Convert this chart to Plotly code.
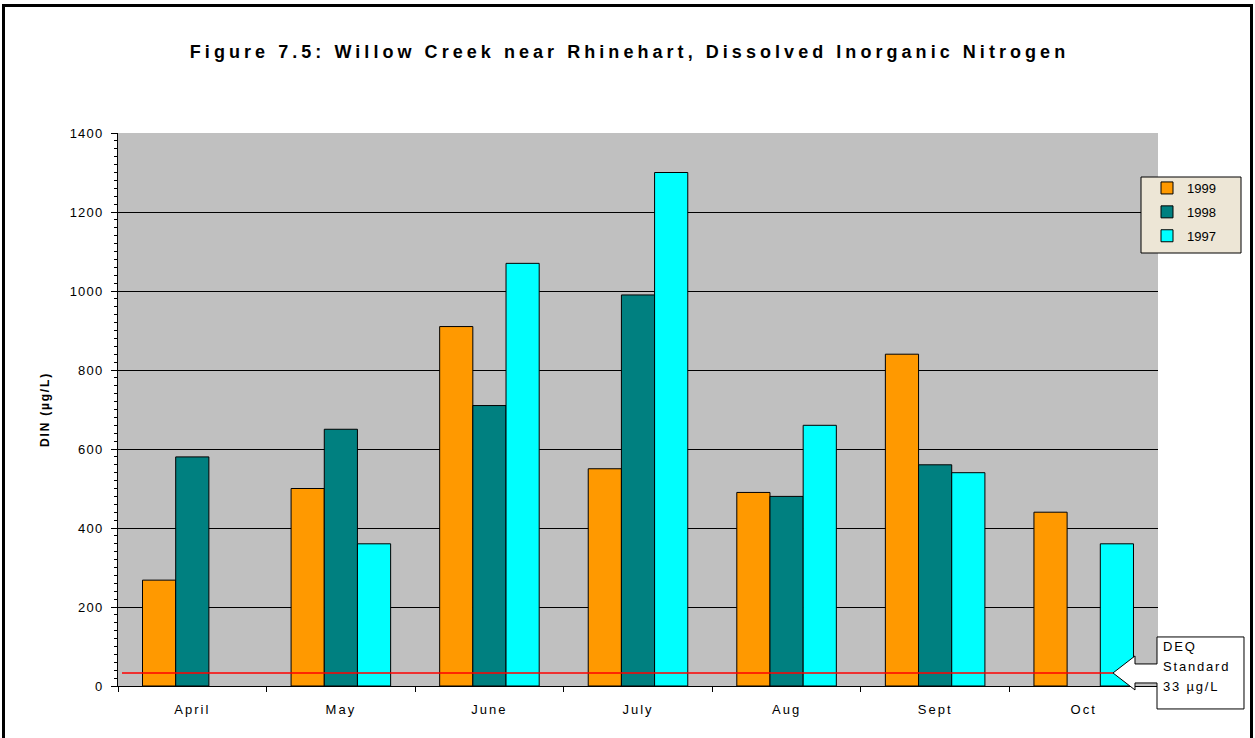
import plotly.graph_objects as go

# Monthly dissolved inorganic nitrogen (ug/L) at Willow Creek near Rhinehart
months = ["April", "May", "June", "July", "Aug", "Sept", "Oct"]
din_1999 = [268, 500, 910, 550, 490, 840, 440]
din_1998 = [580, 650, 710, 990, 480, 560, None]
din_1997 = [None, 360, 1070, 1300, 660, 540, 360]
deq_standard = 33
callout_lines = ["DEQ", "Standard", "33 \u00b5g/L"]

series = [
    ("1999", din_1999, "#FF9900"),
    ("1998", din_1998, "#008080"),
    ("1997", din_1997, "#00FFFF"),
]

W, H = 1255, 738
L, R, T, B = 118, 97, 133, 52
PW, PH = W - L - R, H - T - B
Y_MAX = 1400
FONT = "Arial, 'Liberation Sans', sans-serif"


def fx(px):
    return (px - L) / PW


def fy(py):
    return (H - B - py) / PH


fig = go.Figure()
for name, vals, color in series:
    fig.add_trace(go.Bar(
        x=months, y=vals, name=name, legendgroup=name,
        marker=dict(color=color, line=dict(color="black", width=1)),
    ))

# callout arrow pointing at the DEQ standard line
tip_py = (H - B) - deq_standard * PH / Y_MAX
tip_px = 1113
box_l, box_r = 1157, 1244
box_t, box_b = tip_py - 36, tip_py + 36
neck_x = 1135
pts = [
    (box_l, box_t), (box_r, box_t), (box_r, box_b), (box_l, box_b),
    (box_l, tip_py + 10), (neck_x, tip_py + 10), (neck_x, tip_py + 17),
    (tip_px, tip_py), (neck_x, tip_py - 17), (neck_x, tip_py - 9),
    (box_l, tip_py - 9),
]
path = "M " + " L ".join(f"{fx(x):.5f},{fy(y):.5f}" for x, y in pts) + " Z"

annotations = [
    dict(text=line, xref="paper", yref="paper",
         x=fx(box_l + 4), y=fy(box_t + 10 + 20 * i), xanchor="left", yanchor="middle",
         align="left", showarrow=False, font=dict(size=13))
    for i, line in enumerate(callout_lines)
]

# legend panel
leg_l, leg_t, leg_r, leg_b = 1141, 177, 1241, 253

fig.update_layout(
    width=W, height=H, autosize=False,
    margin=dict(l=L, r=R, t=T, b=B, pad=0),
    paper_bgcolor="white", plot_bgcolor="#C0C0C0",
    font=dict(family=FONT, size=13, color="black"),
    barmode="group", bargap=0.33, bargroupgap=0,
    title=dict(
        text="<b>Figure 7.5: Willow Creek near Rhinehart, Dissolved Inorganic Nitrogen</b>",
        xref="container", x=629.5 / W, xanchor="center",
        yref="container", y=1 - 52 / H, yanchor="middle",
        font=dict(size=18, family=FONT),
    ),
    legend=dict(
        x=fx(leg_l + 6), xanchor="left", y=fy(leg_t - 4), yanchor="top",
        bgcolor="rgba(0,0,0,0)", borderwidth=0,
        font=dict(size=13), traceorder="grouped", tracegroupgap=4,
        itemwidth=30,
    ),
    shapes=[
        dict(type="line", xref="paper", yref="y", x0=fx(122), x1=fx(tip_px),
             y0=deq_standard, y1=deq_standard, line=dict(color="red", width=1.5),
             layer="above"),
        dict(type="path", xref="paper", yref="paper", path=path,
             fillcolor="white", line=dict(color="black", width=1), layer="above"),
        dict(type="rect", xref="paper", yref="paper", x0=fx(leg_l), x1=fx(leg_r),
             y0=fy(leg_b), y1=fy(leg_t), fillcolor="#EDE6D6",
             line=dict(color="black", width=1), layer="above"),
        dict(type="rect", xref="paper", yref="paper", x0=fx(3.5), x1=fx(1251.5),
             y0=fy(760), y1=fy(5.5), line=dict(color="black", width=3),
             fillcolor="rgba(0,0,0,0)", layer="above"),
    ],
    annotations=annotations,
)

fig.update_xaxes(
    showgrid=False, showline=True, linecolor="black", linewidth=1,
    ticks="outside", tickson="boundaries", ticklen=5, tickcolor="black",
    ticklabelstandoff=11, automargin=False, tickfont=dict(size=13),
)
fig.update_yaxes(
    range=[0, Y_MAX], tick0=0, dtick=200, showgrid=True, gridcolor="black",
    gridwidth=1, showline=True, linecolor="black", linewidth=1,
    ticks="outside", ticklen=6, tickcolor="black", ticklabelstandoff=5,
    minor=dict(dtick=20, ticks="outside", ticklen=3, tickcolor="black", showgrid=False),
    zeroline=False, automargin=False, tickfont=dict(size=13),
    title=dict(text="<b>DIN (\u00b5g/L)</b>", font=dict(size=12), standoff=22),
)

# widen the glyph spacing of the chart texts
spacing_js = """
var gd = document.getElementById('{plot_id}');
function spaced(sel, px) {
  gd.querySelectorAll(sel).forEach(function (el) { el.style.letterSpacing = px; });
}
spaced('.gtitle', '4.05px');
spaced('.xtick text', '2px');
spaced('.ytick text', '1.2px');
spaced('.ytitle', '1.8px');
spaced('.annotation-text', '1.8px');
"""

fig.write_html("out.html", post_script=spacing_js)
